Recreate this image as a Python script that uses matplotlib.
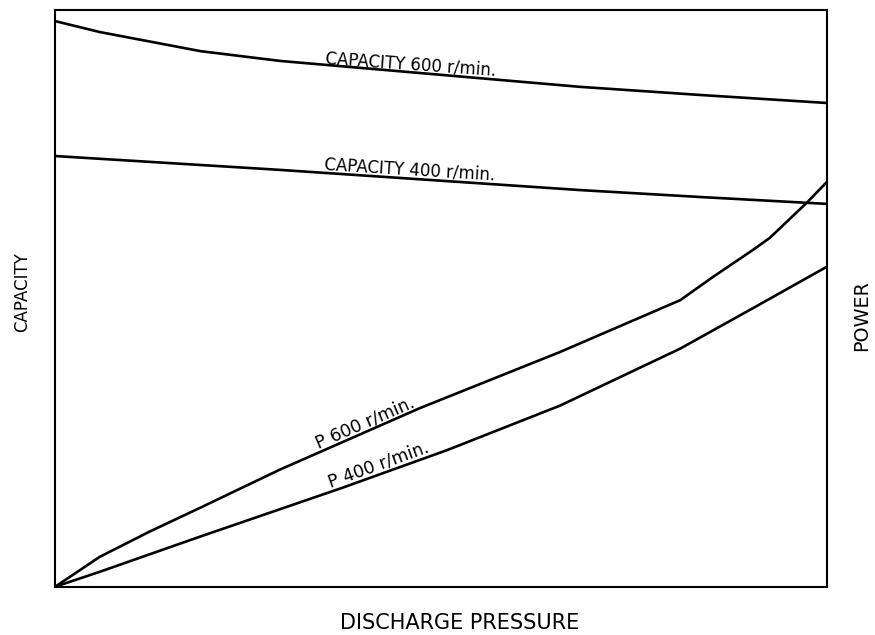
import matplotlib.pyplot as plt

plt.rcParams['font.family'] = 'DejaVu Sans'

# discharge pressure (relative, 0-100) and curve readings
cap600_x = [0, 5.8, 18.8, 29.1, 68.0, 83.5, 100]
cap600_y = [98.1, 96.2, 92.9, 91.2, 86.7, 85.3, 83.9]

cap400_x = [0, 29.1, 68.0, 83.5, 100]
cap400_y = [74.7, 72.3, 68.8, 67.6, 66.4]

p600_x = [0, 5.8, 12.3, 18.8, 29.1, 47.3, 65.4, 81.0, 85.1, 90.4, 92.6, 97.4, 100]
p600_y = [0, 5.2, 9.6, 13.7, 20.3, 31.0, 40.7, 49.7, 53.6, 58.4, 60.5, 66.6, 70.2]

p400_x = [0, 5.8, 18.8, 37.3, 50.8, 65.4, 81.0, 90.4, 100]
p400_y = [0, 2.6, 8.7, 17.2, 23.7, 31.4, 41.3, 48.3, 55.5]

fig = plt.figure(figsize=(8.75, 6.35), dpi=100)
ax = fig.add_axes([0.063, 0.076, 0.882, 0.908])

for xs, ys in [(cap600_x, cap600_y), (cap400_x, cap400_y),
               (p600_x, p600_y), (p400_x, p400_y)]:
    ax.plot(xs, ys, color='black', lw=1.9, solid_capstyle='round',
            solid_joinstyle='round')

ax.set_xlim(0, 100)
ax.set_ylim(0, 100)
ax.set_xticks([])
ax.set_yticks([])
for s in ax.spines.values():
    s.set_linewidth(1.5)

# curve labels, sitting on their lines
lab = dict(ha='center', va='baseline', rotation_mode='anchor')
ax.text(46.0, 89.8, 'CAPACITY 600 r/min.', rotation=-4, fontsize=12, **lab)
ax.text(45.9, 71.4, 'CAPACITY 400 r/min.', rotation=-3.5, fontsize=12, **lab)
ax.text(40.4, 27.7, 'P 600 r/min.', rotation=23.5, fontsize=12.5, **lab)
ax.text(42.1, 20.4, 'P 400 r/min.', rotation=20, fontsize=12.5, **lab)

fig.text(460 / 875, 1 - 629 / 635, 'DISCHARGE PRESSURE', fontsize=15,
         ha='center', va='baseline')
fig.text(22 / 875, 1 - 292 / 635, 'CAPACITY', fontsize=12, rotation=90,
         ha='center', va='center')
fig.text(862 / 875, 1 - 316 / 635, 'POWER', fontsize=13.8, rotation=90,
         ha='center', va='center')

fig.savefig('out.png', dpi=100)
